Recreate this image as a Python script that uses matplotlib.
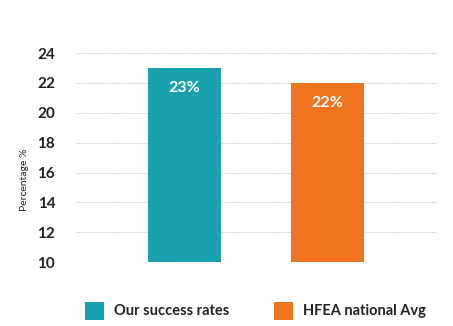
import matplotlib.pyplot as plt
from matplotlib.patches import Rectangle

categories = ['Our success rates', 'HFEA national Avg']
rates = [23, 22]
colors = ['#1aa1ae', '#ef741e']
yticks = [10, 12, 14, 16, 18, 20, 22, 24]

plt.rcParams['font.family'] = ['Lato', 'DejaVu Sans']

W, H = 453, 326
fig = plt.figure(figsize=(W / 100, H / 100), dpi=100)
ax = fig.add_axes([0.168, 0.196, 0.797, 0.641])

x = list(range(len(rates)))
bars = ax.bar(x, rates, width=0.51, color=colors, bottom=0, zorder=2)
ax.set_ylim(10, 24)
ax.set_xlim(-0.76, 1.77)

for b, v in zip(bars, rates):
    ax.text(b.get_x() + b.get_width() / 2, v - 1.35, f'{v}%', ha='center', va='center',
            color='white', fontsize=11.5, fontweight='bold', zorder=3)

ax.set_yticks(yticks)
ax.set_yticklabels([str(t) for t in yticks], fontsize=11, fontweight='bold', color='#222222')
ax.tick_params(axis='y', length=0, pad=15)
ax.set_xticks([])
ax.grid(axis='y', color='#c8c8c8', linestyle=(0, (1, 1)), linewidth=0.8, zorder=1)
for s in ax.spines.values():
    s.set_visible(False)
ax.set_ylabel('Percentage %', fontsize=7.5, color='#222222')
ax.yaxis.set_label_coords((29 - 76) / 361, (262 - 180) / 209)

# legend drawn by hand: swatch + label per series
for c, label, px in zip(colors, categories, [85, 274]):
    fig.add_artist(Rectangle((px / W, 1 - 320 / H), 19 / W, 18 / H,
                             transform=fig.transFigure, facecolor=c, edgecolor='none'))
    fig.text((px + 29) / W, 1 - 311 / H, label, ha='left', va='center',
             fontsize=10.5, fontweight='bold', color='#222222')

fig.savefig('out.png', dpi=100)
